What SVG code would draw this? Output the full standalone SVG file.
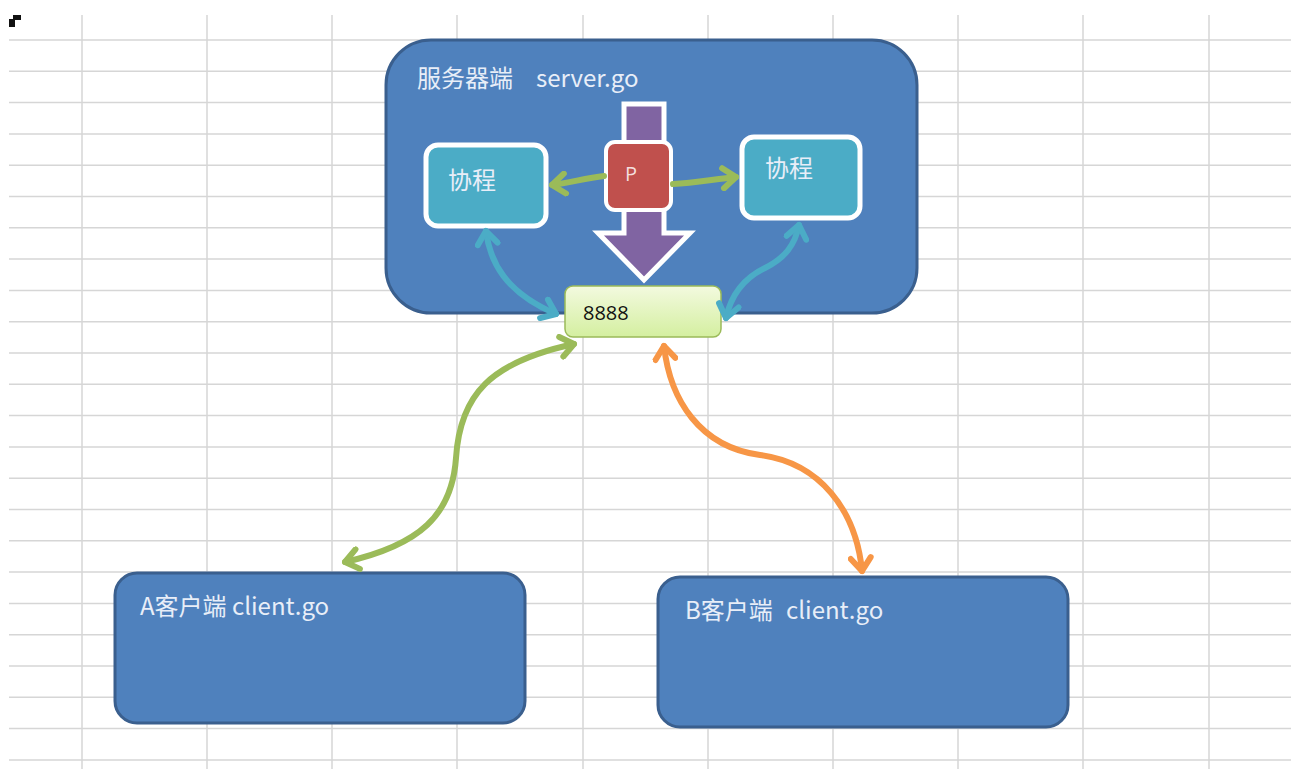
<svg xmlns="http://www.w3.org/2000/svg" width="1291" height="769" viewBox="0 0 1291 769">
<style>
.grid line{stroke:#d6d6d6;stroke-width:1.5}
.big{fill:#4f81bd;stroke:#3a5f8e;stroke-width:3}
.co{fill:#4bacc6;stroke:#ffffff;stroke-width:5}
.t{font-family:"Noto Sans CJK SC","Open Sans",sans-serif;fill:#e8eef8;font-size:24px}
.conn{fill:none;stroke-width:6;stroke-linecap:round}
</style>
<defs>
<linearGradient id="lg" x1="0" y1="0" x2="0" y2="1">
<stop offset="0" stop-color="#f3fadf"/>
<stop offset="1" stop-color="#d4efa0"/>
</linearGradient>
<marker id="mg" viewBox="-18 -13 22 26" refX="0" refY="0" markerWidth="22" markerHeight="26" markerUnits="userSpaceOnUse" orient="auto-start-reverse">
<path d="M -13 -10 L 0 0 L -13 10" fill="none" stroke="#9bbb59" stroke-width="6" stroke-linecap="round" stroke-linejoin="round"/>
</marker>
<marker id="mb" viewBox="-18 -13 22 26" refX="0" refY="0" markerWidth="22" markerHeight="26" markerUnits="userSpaceOnUse" orient="auto-start-reverse">
<path d="M -13 -10 L 0 0 L -13 10" fill="none" stroke="#4bacc6" stroke-width="6" stroke-linecap="round" stroke-linejoin="round"/>
</marker>
<marker id="mo" viewBox="-18 -13 22 26" refX="0" refY="0" markerWidth="22" markerHeight="26" markerUnits="userSpaceOnUse" orient="auto-start-reverse">
<path d="M -13 -10 L 0 0 L -13 10" fill="none" stroke="#f79646" stroke-width="6" stroke-linecap="round" stroke-linejoin="round"/>
</marker>
</defs>
<rect width="1291" height="769" fill="#ffffff"/>
<g class="grid">
<line x1="9" y1="40" x2="1291" y2="40"/><line x1="9" y1="71.3" x2="1291" y2="71.3"/><line x1="9" y1="102.6" x2="1291" y2="102.6"/><line x1="9" y1="133.9" x2="1291" y2="133.9"/><line x1="9" y1="165.2" x2="1291" y2="165.2"/><line x1="9" y1="196.5" x2="1291" y2="196.5"/><line x1="9" y1="227.8" x2="1291" y2="227.8"/><line x1="9" y1="259.1" x2="1291" y2="259.1"/><line x1="9" y1="290.4" x2="1291" y2="290.4"/><line x1="9" y1="321.7" x2="1291" y2="321.7"/><line x1="9" y1="353" x2="1291" y2="353"/><line x1="9" y1="384.3" x2="1291" y2="384.3"/><line x1="9" y1="415.6" x2="1291" y2="415.6"/><line x1="9" y1="446.9" x2="1291" y2="446.9"/><line x1="9" y1="478.2" x2="1291" y2="478.2"/><line x1="9" y1="509.5" x2="1291" y2="509.5"/><line x1="9" y1="540.8" x2="1291" y2="540.8"/><line x1="9" y1="572.1" x2="1291" y2="572.1"/><line x1="9" y1="603.4" x2="1291" y2="603.4"/><line x1="9" y1="634.7" x2="1291" y2="634.7"/><line x1="9" y1="666" x2="1291" y2="666"/><line x1="9" y1="697.3" x2="1291" y2="697.3"/><line x1="9" y1="728.6" x2="1291" y2="728.6"/><line x1="9" y1="759.9" x2="1291" y2="759.9"/>
<line x1="82" y1="15" x2="82" y2="769"/><line x1="207" y1="15" x2="207" y2="769"/><line x1="332" y1="15" x2="332" y2="769"/><line x1="457" y1="15" x2="457" y2="769"/><line x1="583" y1="15" x2="583" y2="769"/><line x1="708" y1="15" x2="708" y2="769"/><line x1="833" y1="15" x2="833" y2="769"/><line x1="958" y1="15" x2="958" y2="769"/><line x1="1083" y1="15" x2="1083" y2="769"/><line x1="1209" y1="15" x2="1209" y2="769"/>
</g>
<path d="M9 27 L9 19 L13 19 L13 15 L21 15 L21 20 L15 20 L15 27 Z" fill="#111111"/>
<g id="server">
<rect class="big" x="386" y="40" width="531" height="273" rx="45"/>
<text class="t" x="417" y="87">服务器端 <tspan x="536">server.go</tspan></text>
</g>
<g id="client-a">
<rect class="big" x="115" y="573" width="410" height="150" rx="22"/>
<text class="t" x="140" y="615">A客户端 client.go</text>
</g>
<g id="client-b">
<rect class="big" x="658" y="577" width="410" height="150" rx="22"/>
<text class="t" x="685" y="619">B客户端 <tspan x="786">client.go</tspan></text>
</g>
<g id="co-left">
<rect class="co" x="426" y="145" width="120" height="81" rx="12"/>
<text class="t" x="448" y="189">协程</text>
</g>
<g id="co-right">
<rect class="co" x="742" y="137" width="118" height="81" rx="12"/>
<text class="t" x="765" y="177">协程</text>
</g>
<g id="push-arrow">
<path d="M624 104 L664 104 L664 233 L690 233 L644 280 L598 233 L624 233 Z" fill="#8064a2" stroke="#ffffff" stroke-width="5" stroke-linejoin="miter"/>
</g>
<g id="p">
<rect x="606" y="142" width="65" height="68" rx="9" fill="#c0504d" stroke="#ffffff" stroke-width="4"/>
<text x="625" y="181" font-family="'Open Sans','Noto Sans',sans-serif" font-size="20" fill="#f4dede">P</text>
</g>
<g id="port">
<rect x="565" y="286" width="156" height="51" rx="8" fill="url(#lg)" stroke="#9bbb59" stroke-width="1.5"/>
<text x="583" y="320" font-family="'Open Sans','Noto Sans',sans-serif" font-size="20" fill="#111111">8888</text>
</g>
<g id="connectors">
<path class="conn" stroke="#9bbb59" d="M604 176 C585 178 570 183 552 185" marker-end="url(#mg)"/>
<path class="conn" stroke="#9bbb59" d="M673 184 C695 183 715 179 736 177" marker-end="url(#mg)"/>
<path class="conn" stroke="#4bacc6" d="M486 231 C490 262 505 292 556 314" marker-start="url(#mb)" marker-end="url(#mb)"/>
<path class="conn" stroke="#4bacc6" d="M726 318 C730 300 740 280 765 268 C785 258 795 245 799 225" marker-start="url(#mb)" marker-end="url(#mb)"/>
<path class="conn" stroke="#9bbb59" d="M345 562 C420 545 452 515 456 458 C460 395 490 362 574 344" marker-start="url(#mg)" marker-end="url(#mg)"/>
<path class="conn" stroke="#f79646" d="M664 346 C670 400 700 447 760 455 C820 463 856 510 862 571" marker-start="url(#mo)" marker-end="url(#mo)"/>
</g>
</svg>
